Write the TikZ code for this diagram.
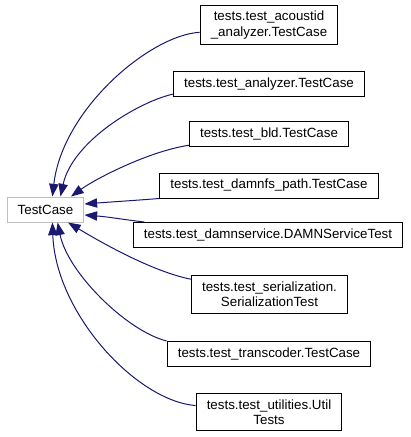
\documentclass[tikz,border=0pt]{standalone}
\usepackage{fontspec}
\setmainfont{Liberation Sans}
\usetikzlibrary{arrows.meta}
\definecolor{edgeblue}{HTML}{191970}
\definecolor{basegray}{HTML}{BFBFBF}
\tikzset{
  cls/.style={draw=black, line width=0.75pt, fill=white, align=center,
    font=\fontsize{10}{11.5}\selectfont, inner xsep=8pt, inner ysep=4.5pt,
    minimum height=18.75pt},
  basecls/.style={cls, draw=basegray},
  inherit/.style={draw=edgeblue, line width=0.75pt,
    -{Triangle[length=9.5pt,width=7pt,fill=edgeblue]}}
}
\begin{document}
\begin{tikzpicture}[x=0.75pt,y=-0.75pt]
\useasboundingbox (0,0) rectangle (411,437);

\node[basecls] (testcase) at (45.5,209.5) {TestCase};

\node[cls] (acoustid) at (269,25) {tests.test\_acoustid\\\_analyzer.TestCase};
\node[cls] (analyzer) at (269,84) {tests.test\_analyzer.TestCase};
\node[cls] (bld) at (269,134) {tests.test\_bld.TestCase};
\node[cls] (damnfs) at (269,185.5) {tests.test\_damnfs\_path.TestCase};
\node[cls] (damnservice) at (268,235) {tests.test\_damnservice.DAMNServiceTest};
\node[cls] (serialization) at (269.5,294.5) {tests.test\_serialization.\\SerializationTest};
\node[cls] (transcoder) at (269,354) {tests.test\_transcoder.TestCase};
\node[cls] (utilities) at (269,412) {tests.test\_utilities.Util\\Tests};

\draw[inherit] (acoustid.186) .. controls +(-50,3) and +(10,-87) .. (testcase.62);
\draw[inherit] (analyzer.186) .. controls +(-35,8) and +(12,-55) .. (testcase.41);
\draw[inherit] (bld.188) .. controls +(-40,6) and +(25,-18) .. (testcase.27);
\draw[inherit] (damnfs.south west) .. controls +(-25,2) and +(25,-2) .. (testcase.8);
\draw[inherit] (damnservice.174) .. controls +(-25,-3) and +(25,2) .. (testcase.-8);
\draw[inherit] (serialization.169) .. controls +(-40,-8) and +(30,18) .. (testcase.-30);
\draw[inherit] (transcoder.north west) .. controls +(-40,-10) and +(10,50) .. (testcase.-47);
\draw[inherit] (utilities.175) .. controls +(-60,-5) and +(3,90) .. (testcase.-62);
\end{tikzpicture}
\end{document}
